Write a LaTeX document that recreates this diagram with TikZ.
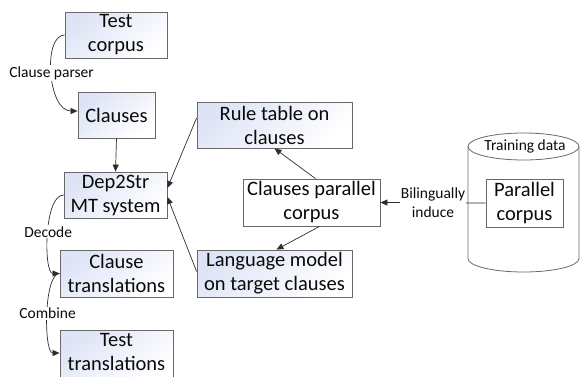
\documentclass[tikz,border=0pt]{standalone}
\usepackage{fontspec}
\setmainfont{Carlito}
\usetikzlibrary{arrows.meta,calc}
\definecolor{boxtint}{RGB}{222,228,246}
\definecolor{boxline}{RGB}{105,105,105}
\definecolor{connline}{RGB}{45,45,45}
\definecolor{inktext}{RGB}{10,10,10}
\tikzset{
  x=1pt, y=1pt,
  stepbox/.style={draw=boxline, line width=0.8pt, top color=boxtint, bottom color=white,
    shading angle=40, align=center, inner sep=0pt, text=inktext,
    font=\fontsize{20.5}{24}\selectfont},
  plainbox/.style={draw=boxline, line width=0.8pt, fill=white,
    align=center, inner sep=0pt, text=inktext,
    font=\fontsize{20.5}{24}\selectfont},
  conn/.style={draw=connline, line width=0.7pt, -{Triangle[length=7pt,width=6pt]}},
  edgelabel/.style={fill=white, inner sep=1pt, text=inktext,
    font=\fontsize{15.5}{19}\selectfont, align=center},
}
\begin{document}
\begin{tikzpicture}
\useasboundingbox (0,0) rectangle (580,376);

% training data store (cylinder)
\filldraw[fill=white, draw=boxline, line width=0.8pt]
  (468,229.5) -- (468,117.5) arc[start angle=180, end angle=360, x radius=55.5, y radius=13.5]
  -- (579,229.5);
\filldraw[fill=white, draw=boxline, line width=0.8pt]
  (523.5,229.5) ellipse[x radius=55.5, y radius=13.5];
\node[edgelabel, fill=none] (tdata) at (525,230) {Training data};

% left column
\node[stepbox, minimum width=102, minimum height=46] (tc) at (116,341) {Test\\corpus};
\node[stepbox, minimum width=77, minimum height=46] (cl) at (116.5,261) {Clauses};
\node[stepbox, minimum width=103, minimum height=46] (mt) at (115.5,181) {Dep2Str\\MT system};
\node[stepbox, minimum width=113, minimum height=47] (ct) at (116.5,102.5) {Clause\\translations};
\node[stepbox, minimum width=113, minimum height=50] (tt) at (116.5,21) {};
\node[align=center, inner sep=0pt, text=inktext, font=\fontsize{20.5}{24}\selectfont]
  (ttext) at (116.5,24) {Test\\translations};

% middle column
\node[stepbox, minimum width=155, minimum height=46] (rt) at (274.5,251) {Rule table on\\clauses};
\node[plainbox, minimum width=137, minimum height=47] (cp) at (311.5,173.5) {Clauses parallel\\corpus};
\node[stepbox, minimum width=155, minimum height=47] (lm) at (274.5,102.5) {Language model\\on target clauses};

% inside the store
\node[plainbox, minimum width=77, minimum height=48] (pc) at (524.5,173) {Parallel\\corpus};

% connectors
\draw[conn] (tc.west) .. controls +(-22,0) and +(-30,0) .. node[edgelabel, pos=0.5] {Clause parser} ([yshift=4]cl.west);
\draw[conn] (cl.south) -- (mt.north);
\draw[conn] ([yshift=7]rt.west) -- ([yshift=7]mt.east);
\draw[conn] ([yshift=2]lm.west) -- ([yshift=-2]mt.east);
\draw[conn] ([xshift=4]cp.north) -- (rt.south);
\draw[conn] ([xshift=8]cp.south) -- ([xshift=2]lm.north);
\draw[conn] (pc.west) -- node[edgelabel] {Bilingually\\induce} (cp.east);
\draw[conn] (mt.west) .. controls +(-20,0) and +(-16,0) .. node[edgelabel, pos=0.48] {Decode} (ct.west);
\draw[conn] (ct.west) .. controls +(-16,0) and +(-16,0) .. node[edgelabel, pos=0.5] {Combine} ([yshift=2]tt.west);
\end{tikzpicture}
\end{document}
